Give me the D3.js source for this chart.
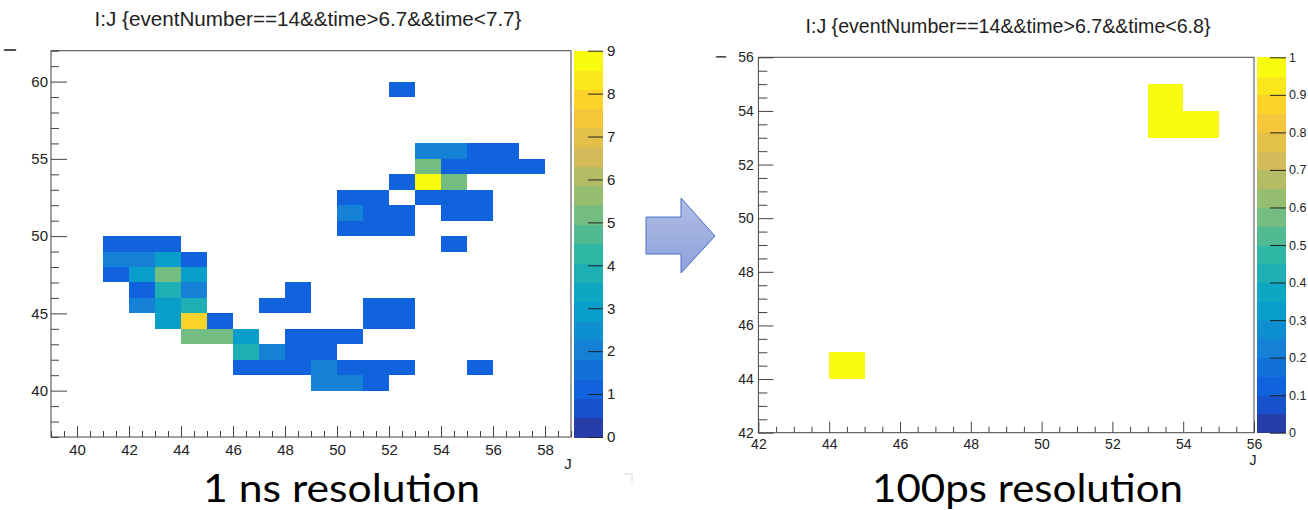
<!DOCTYPE html>
<html>
<head>
<meta charset="utf-8">
<script src="https://cdn.jsdelivr.net/npm/d3@7"></script>
<style>
  html, body { margin: 0; padding: 0; background: #fff; }
  svg { display: block; }
</style>
</head>
<body>
<svg id="chart" width="1308" height="510"></svg>
<script>
// ---------------- DATA ----------------
// Left histogram (1 ns window): [J, I, entries]
const leftTitle = "I:J {eventNumber==14&&time>6.7&&time<7.7}";
const leftCells = [
  [52,59,1],
  [53,55,2],[54,55,2],[55,55,1],[56,55,1],
  [53,54,5],[54,54,1],[55,54,1],[56,54,1],[57,54,1],
  [52,53,1],[53,53,9],[54,53,5],
  [50,52,1],[51,52,1],[53,52,1],[54,52,1],[55,52,1],
  [50,51,2],[51,51,1],[52,51,1],[54,51,1],[55,51,1],
  [50,50,1],[51,50,1],[52,50,1],
  [41,49,1],[42,49,1],[43,49,1],[54,49,1],
  [41,48,2],[42,48,2],[43,48,3],[44,48,1],
  [41,47,1],[42,47,3],[43,47,5],[44,47,3],
  [42,46,1],[43,46,4],[44,46,2],[48,46,1],
  [42,45,2],[43,45,3],[44,45,4],[47,45,1],[48,45,1],[51,45,1],[52,45,1],
  [43,44,3],[44,44,8],[45,44,1],[51,44,1],[52,44,1],
  [44,43,5],[45,43,5],[46,43,3],[48,43,1],[49,43,1],[50,43,1],
  [46,42,4],[47,42,2],[48,42,1],[49,42,1],
  [46,41,1],[47,41,1],[48,41,1],[49,41,2],[50,41,1],[51,41,1],[52,41,1],[55,41,1],
  [49,40,2],[50,40,2],[51,40,1]
];
const leftXDomain = [39, 59];
const leftYDomain = [37, 62];
const leftXMajor = [40,42,44,46,48,50,52,54,56,58];
const leftYMajor = [40,45,50,55,60];
const leftZRange = [0, 9];
const leftZTicks = [0,1,2,3,4,5,6,7,8,9];

// Right histogram (100 ps window)
const rightTitle = "I:J {eventNumber==14&&time>6.7&&time<6.8}";
const rightCells = [
  [44,44,1],
  [53,54,1],[53,53,1],[54,53,1]
];
const rightXDomain = [42, 56];
const rightYDomain = [42, 56];
const rightXMajor = [42,44,46,48,50,52,54,56];
const rightYMajor = [42,44,46,48,50,52,54,56];
const rightZRange = [0, 1];
const rightZTicks = [0,0.1,0.2,0.3,0.4,0.5,0.6,0.7,0.8,0.9,1];

const captions = ["1 ns resolution", "100ps resolution"];

// ROOT kBird palette
const birdStops = [0.0, 0.125, 0.25, 0.375, 0.5, 0.625, 0.75, 0.875, 1.0];
const birdR = [0.2082, 0.0592, 0.0780, 0.0232, 0.1802, 0.5301, 0.8186, 0.9956, 0.9764];
const birdG = [0.1664, 0.3599, 0.5041, 0.6419, 0.7178, 0.7492, 0.7328, 0.7862, 0.9832];
const birdB = [0.5293, 0.8684, 0.8385, 0.7914, 0.6425, 0.4662, 0.3499, 0.1968, 0.0539];
const nContours = 20;

// ---------------- DRAW ----------------
const svg = d3.select("#chart");
const bird = d3.scaleLinear()
  .domain(birdStops)
  .range(birdStops.map((s, i) => d3.rgb(birdR[i]*255, birdG[i]*255, birdB[i]*255).toString()))
  .interpolate(d3.interpolateRgb);

function contourColor(k) {
  k = Math.max(0, Math.min(nContours - 1, k));
  const idx = Math.floor((k + 0.99) * 255 / nContours);
  return bird(idx / 254);
}
function valueColor(v, zr) {
  const k = Math.floor((v - zr[0]) / (zr[1] - zr[0]) * nContours);
  return contourColor(k);
}

const axisFont = "'Liberation Sans', Arial, Helvetica, sans-serif";

function range(a, b, step) {
  const out = [];
  for (let v = a; v <= b + 1e-9; v += step) out.push(+v.toFixed(4));
  return out;
}

function drawPanel(cfg) {
  const g = svg.append("g");
  const x = d3.scaleLinear().domain(cfg.xDomain).range([cfg.left, cfg.right]);
  const y = d3.scaleLinear().domain(cfg.yDomain).range([cfg.bottom, cfg.top]);

  // cells
  g.append("g").selectAll("rect").data(cfg.cells).join("rect")
    .attr("x", d => x(d[0]))
    .attr("y", d => y(d[1] + 1))
    .attr("width", d => x(d[0] + 1) - x(d[0]))
    .attr("height", d => y(d[1]) - y(d[1] + 1))
    .attr("fill", d => valueColor(d[2], cfg.zRange))
    .attr("shape-rendering", "crispEdges");

  // x axis
  const xMinor = range(cfg.xDomain[0], cfg.xDomain[1], 0.5).filter(v => !cfg.xMajor.includes(v));
  const gxm = g.append("g").attr("transform", `translate(0,${cfg.bottom})`)
    .call(d3.axisBottom(x).tickValues(xMinor).tickSizeInner(-cfg.xMinorLen).tickSizeOuter(0).tickFormat(""));
  const gx = g.append("g").attr("transform", `translate(0,${cfg.bottom})`)
    .call(d3.axisBottom(x).tickValues(cfg.xMajor).tickSizeInner(-cfg.xMajorLen).tickSizeOuter(0)
      .tickPadding(cfg.xPad).tickFormat(d3.format("d")));
  // y axis
  const yMinor = range(cfg.yDomain[0], cfg.yDomain[1], cfg.yMinorStep).filter(v => !cfg.yMajor.includes(v));
  const gym = g.append("g").attr("transform", `translate(${cfg.left},0)`)
    .call(d3.axisLeft(y).tickValues(yMinor).tickSizeInner(-cfg.yMinorLen).tickSizeOuter(0).tickFormat(""));
  const gy = g.append("g").attr("transform", `translate(${cfg.left},0)`)
    .call(d3.axisLeft(y).tickValues(cfg.yMajor).tickSizeInner(-cfg.yMajorLen).tickSizeOuter(0)
      .tickPadding(cfg.yPad).tickFormat(d3.format("d")));
  [gxm, gx, gym, gy].forEach(a => {
    a.select(".domain").remove();
    a.selectAll(".tick line").attr("stroke", "#444").attr("stroke-width", 1);
    a.attr("font-family", axisFont).attr("font-size", cfg.labelSize);
    a.selectAll("text").attr("fill", "#222");
  });

  // frame
  g.append("rect")
    .attr("x", cfg.left).attr("y", cfg.top)
    .attr("width", cfg.right - cfg.left).attr("height", cfg.bottom - cfg.top)
    .attr("fill", "none").attr("stroke", "#444").attr("stroke-width", 1);

  // palette
  const z = d3.scaleLinear().domain(cfg.zRange).range([cfg.bottom, cfg.top]);
  const dz = (cfg.zRange[1] - cfg.zRange[0]) / nContours;
  g.append("g").selectAll("rect").data(d3.range(nContours)).join("rect")
    .attr("x", cfg.palLeft).attr("width", cfg.palRight - cfg.palLeft)
    .attr("y", k => z(cfg.zRange[0] + (k + 1) * dz))
    .attr("height", k => z(cfg.zRange[0] + k * dz) - z(cfg.zRange[0] + (k + 1) * dz) + 0.5)
    .attr("fill", k => contourColor(k))
    .attr("shape-rendering", "crispEdges");
  const gz = g.append("g").attr("transform", `translate(${cfg.palRight},0)`)
    .call(d3.axisRight(z).tickValues(cfg.zTicks).tickSizeInner(-cfg.palTickLen).tickSizeOuter(0)
      .tickPadding(cfg.palPad).tickFormat(d => d3.format("~g")(d)));
  gz.select(".domain").remove();
  gz.selectAll(".tick line").attr("stroke", "#222");
  gz.attr("font-family", axisFont).attr("font-size", cfg.palLabelSize);
  gz.selectAll("text").attr("fill", "#222").attr("text-anchor", "start");

  // axis titles
  g.append("text").attr("x", cfg.jX).attr("y", cfg.jY)
    .attr("font-family", axisFont).attr("font-size", cfg.labelSize).attr("fill", "#222")
    .attr("text-anchor", "middle").text("J");
  g.append("text").attr("transform", `translate(${cfg.iX},${cfg.iY}) rotate(-90)`)
    .attr("font-family", axisFont).attr("font-size", cfg.labelSize + 1).attr("fill", "#222")
    .attr("text-anchor", "middle").text("I");

  // histogram title
  g.append("text").attr("x", cfg.titleX).attr("y", cfg.titleY)
    .attr("font-family", axisFont).attr("font-size", 21).attr("fill", "#222")
    .attr("text-anchor", "middle")
    .attr("textLength", cfg.titleLen).attr("lengthAdjust", "spacingAndGlyphs")
    .text(cfg.title);

  // caption
  svg.append("text").attr("x", cfg.capX).attr("y", 502)
    .attr("font-family", "Lato, 'Open Sans', sans-serif").attr("font-size", 38).attr("fill", "#000")
    .attr("textLength", cfg.capLen).attr("lengthAdjust", "spacingAndGlyphs")
    .text(cfg.caption);
}

drawPanel({
  cells: leftCells, xDomain: leftXDomain, yDomain: leftYDomain,
  xMajor: leftXMajor, yMajor: leftYMajor, yMinorStep: 1,
  zRange: leftZRange, zTicks: leftZTicks,
  left: 51, right: 571, top: 50.7, bottom: 437,
  xMajorLen: 11, xMinorLen: 6, yMajorLen: 16, yMinorLen: 8,
  xPad: 7, yPad: 3, labelSize: 15,
  palLeft: 574, palRight: 603, palTickLen: 15, palPad: 4, palLabelSize: 15,
  jX: 568, jY: 469, iX: 16, iY: 50,
  title: leftTitle, titleX: 308, titleY: 26, titleLen: 427,
  caption: captions[0], capX: 203, capLen: 277
});

drawPanel({
  cells: rightCells, xDomain: rightXDomain, yDomain: rightYDomain,
  xMajor: rightXMajor, yMajor: rightYMajor, yMinorStep: 0.5,
  zRange: rightZRange, zTicks: rightZTicks,
  left: 758.4, right: 1254, top: 57.3, bottom: 432.7,
  xMajorLen: 11, xMinorLen: 6, yMajorLen: 15, yMinorLen: 9,
  xPad: 6.5, yPad: 4.5, labelSize: 14,
  palLeft: 1257, palRight: 1286, palTickLen: 16, palPad: 3, palLabelSize: 12.5,
  jX: 1253, jY: 465, iX: 726, iY: 57,
  title: rightTitle, titleX: 1008, titleY: 33, titleLen: 405,
  caption: captions[1], capX: 872, capLen: 311
});

// arrow between panels
const defs = svg.append("defs");
const grad = defs.append("linearGradient").attr("id", "arrowGrad")
  .attr("x1", 0).attr("y1", 0).attr("x2", 0).attr("y2", 1);
grad.append("stop").attr("offset", "0%").attr("stop-color", "#b0bde6");
grad.append("stop").attr("offset", "100%").attr("stop-color", "#8ea1d9");
svg.append("path")
  .attr("d", "M646,217 L681,217 L681,198 L715,236 L681,273 L681,254 L646,254 Z")
  .attr("fill", "url(#arrowGrad)").attr("stroke", "#4a72c8").attr("stroke-width", 1);

// faint slide artefacts
svg.append("path").attr("d", "M624,474 L632,474 L632,482").attr("fill", "none")
  .attr("stroke", "#d8d8d8").attr("stroke-width", 1);
</script>
</body>
</html>
